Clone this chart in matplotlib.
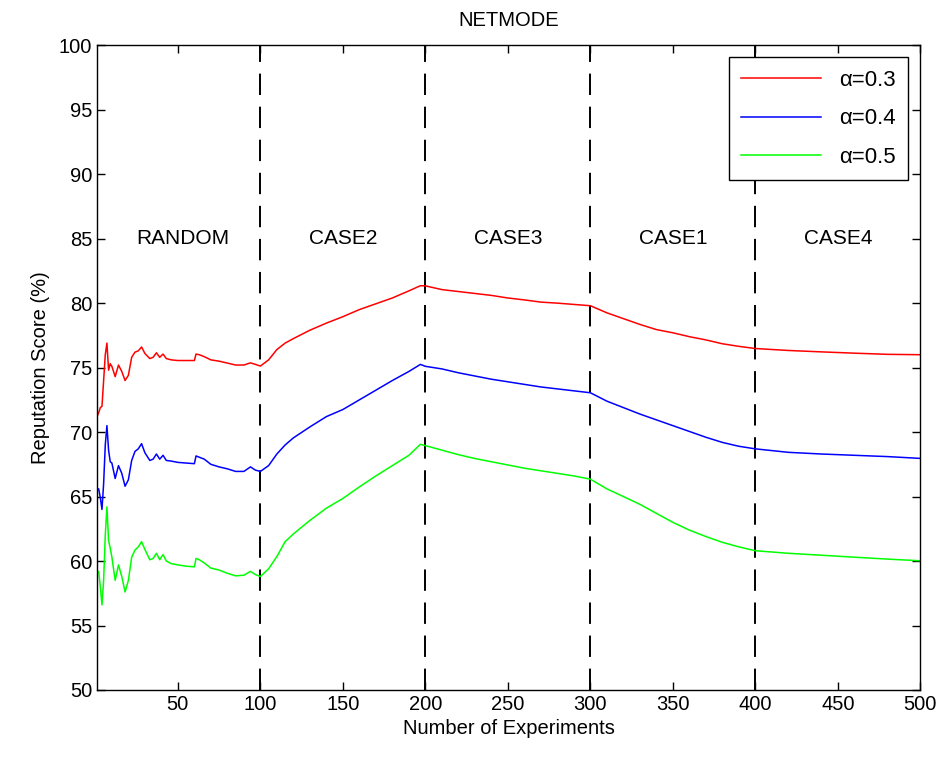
import matplotlib
matplotlib.use("Agg")
import matplotlib.pyplot as plt

plt.rcParams['font.family'] = ['Liberation Sans', 'DejaVu Sans']

# x positions (number of experiments)
x_vals = [1, 2, 3, 4, 5, 6, 7, 8, 9, 10, 12, 14, 16, 18, 20, 22, 24, 26, 28, 30,
          33, 35, 37, 39, 41, 43, 46, 50, 55, 60, 61, 63, 66, 70, 75, 80, 85, 90,
          94, 97, 100, 105, 110, 115, 120, 130, 140, 150, 160, 170, 180, 190, 197,
          200, 210, 220, 230, 240, 250, 260, 270, 280, 290, 300, 310, 320, 330,
          340, 350, 360, 370, 380, 390, 400, 420, 440, 460, 480, 500]

alpha03 = [71.2, 71.5, 71.9, 72.0, 74.0, 76.0, 76.9, 74.8, 75.3, 75.1, 74.3, 75.2,
           74.7, 74.0, 74.4, 75.8, 76.2, 76.3, 76.6, 76.1, 75.7, 75.8, 76.15, 75.8,
           76.05, 75.7, 75.6, 75.55, 75.55, 75.55, 76.05, 76.0, 75.85, 75.6, 75.5,
           75.35, 75.2, 75.2, 75.37, 75.25, 75.12,
           75.6, 76.4, 76.9, 77.25, 77.9, 78.45, 78.95, 79.5, 79.95, 80.4, 80.95,
           81.35, 81.34, 81.05, 80.9, 80.75, 80.6, 80.4, 80.25, 80.08, 80.0, 79.9,
           79.8, 79.25, 78.8, 78.35, 77.95, 77.7, 77.4, 77.15, 76.85, 76.65, 76.48,
           76.33, 76.22, 76.12, 76.03, 76.0]

alpha04 = [65.5, 65.6, 64.9, 64.0, 66.0, 69.0, 70.5, 68.6, 67.7, 67.6, 66.4, 67.4,
           66.8, 65.8, 66.3, 67.8, 68.5, 68.7, 69.1, 68.4, 67.8, 67.9, 68.3, 67.9,
           68.2, 67.8, 67.75, 67.65, 67.6, 67.55, 68.15, 68.05, 67.9, 67.5, 67.3,
           67.15, 66.95, 66.95, 67.3, 67.05, 66.95,
           67.4, 68.3, 69.0, 69.55, 70.4, 71.2, 71.75, 72.5, 73.25, 74.0, 74.7,
           75.25, 75.1, 74.9, 74.6, 74.35, 74.1, 73.9, 73.7, 73.5, 73.35, 73.2,
           73.05, 72.4, 71.9, 71.4, 70.95, 70.5, 70.05, 69.6, 69.2, 68.9, 68.7,
           68.43, 68.3, 68.2, 68.1, 67.96]

alpha05 = [59.0, 59.2, 58.0, 56.6, 58.5, 62.0, 64.2, 61.6, 61.0, 60.3, 58.5, 59.7,
           58.8, 57.6, 58.5, 60.3, 60.85, 61.1, 61.5, 60.9, 60.1, 60.2, 60.6, 60.1,
           60.5, 60.0, 59.8, 59.7, 59.6, 59.55, 60.2, 60.1, 59.85, 59.45, 59.3,
           59.05, 58.85, 58.9, 59.2, 58.95, 58.8,
           59.4, 60.35, 61.5, 62.1, 63.15, 64.1, 64.85, 65.75, 66.6, 67.4, 68.2,
           69.05, 68.95, 68.6, 68.25, 67.95, 67.7, 67.45, 67.2, 67.0, 66.8, 66.6,
           66.35, 65.6, 65.0, 64.4, 63.7, 63.0, 62.4, 61.9, 61.45, 61.1, 60.8,
           60.6, 60.45, 60.3, 60.15, 60.02]

series_labels = ['\u03b1=0.3', '\u03b1=0.4', '\u03b1=0.5']
phase_bounds = [100, 200, 300, 400]
phase_names = ['RANDOM', 'CASE2', 'CASE3', 'CASE1', 'CASE4']
phase_centers = [53, 150, 250, 350, 450]
x_ticks = [50, 100, 150, 200, 250, 300, 350, 400, 450, 500]
y_ticks = [50, 55, 60, 65, 70, 75, 80, 85, 90, 95, 100]

fig = plt.figure(figsize=(9.42, 7.63), dpi=100)
ax = fig.add_axes([0.103, 0.0957, 0.874, 0.845])

colors = ['#ff0000', '#0000ff', '#00ff00']
for ys, c, lab in zip([alpha03, alpha04, alpha05], colors, series_labels):
    ax.plot(x_vals, ys, color=c, lw=1.1, label=lab)

for b in phase_bounds:
    ax.axvline(b, color='black', lw=1.4, ls=(0, (11, 6)), zorder=1)

for name, cx in zip(phase_names, phase_centers):
    ax.text(cx, 85, name, ha='center', va='center', fontsize=15)

ax.set_xlim(1, 500)
ax.set_ylim(50, 100)
ax.set_xticks(x_ticks)
ax.set_yticks(y_ticks)
ax.tick_params(direction='in', top=True, right=True, labelsize=14.5, length=6, width=1)
for s in ax.spines.values():
    s.set_linewidth(1.0)

ax.set_title('NETMODE', fontsize=14.5, pad=14)
ax.set_xlabel('Number of Experiments', fontsize=14.5, labelpad=4)
ax.set_ylabel('Reputation Score (%)', fontsize=14.5, labelpad=6)

leg = ax.legend(loc='upper right', fontsize=16, frameon=True, fancybox=False,
                edgecolor='black', handlelength=3.6, borderaxespad=0.55,
                labelspacing=0.8, handletextpad=0.8, borderpad=0.55,
                framealpha=1.0)
leg.get_frame().set_linewidth(1.0)
leg.set_zorder(5)

fig.savefig('out.png', dpi=100)
